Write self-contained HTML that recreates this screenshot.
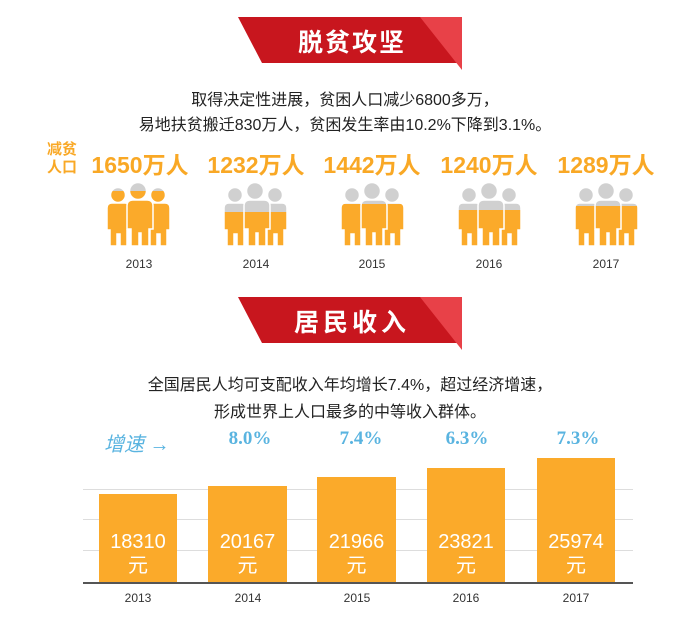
<!DOCTYPE html>
<html><head><meta charset="utf-8"><style>
body{margin:0;width:689px;height:624px;background:#fff;overflow:hidden;position:relative;font-family:"Liberation Sans","Noto Sans CJK SC",sans-serif}
.a{position:absolute;white-space:nowrap}
.c{transform:translateX(-50%)}
.num{color:#f9a825;font-size:23px;font-weight:bold;top:146px}
.yr{font-size:12px;color:#333}
.pct{color:#5ab4e0;font-family:"Liberation Serif","Noto Serif CJK SC",serif;font-weight:bold;font-size:19px;top:428px}
.bar{position:absolute;background:#fbaa2a;bottom:41px}
.bv{color:#fff;font-size:20px;text-align:center;position:absolute;left:0;right:0;top:36px;line-height:24px}
.g{position:absolute;left:83px;width:550px;height:1px;background:#ddd}
</style></head><body>
<svg class="a" style="left:0;top:0" width="689" height="624">
<defs>
<g id="ppl">
<g stroke="#fff" stroke-width="1.5">
<circle cx="11" cy="13" r="7.5"/>
<path d="M4 21h14q5 0 5 5v22h-3v16h-7v-12h-3v12h-7v-16h-3v-22q0-5 5-5z"/>
<circle cx="51" cy="13" r="7.5"/>
<path d="M44 21h14q5 0 5 5v22h-3v16h-7v-12h-3v12h-7v-16h-3v-22q0-5 5-5z"/>
<circle cx="31" cy="9" r="8.5"/>
<path d="M22 18h18q6 0 6 6v23h-4v17h-8v-13h-2v13h-8v-17h-4v-23q0-6 6-6z"/>
</g></g>
</defs>
<polygon points="238,17 462,17 462,63 262,63" fill="#c8161e"/>
<polygon points="420,17 462,17 462,70" fill="#e84148"/>
<polygon points="238,297 462,297 462,343 262,343" fill="#c8161e"/>
<polygon points="420,297 462,297 462,350" fill="#e84148"/>
</svg>
<div class="a c" style="left:352px;top:23px;color:#fff;font-size:25px;font-weight:bold;letter-spacing:2px">脱贫攻坚</div>
<div class="a c" style="left:352px;top:303px;color:#fff;font-size:25px;font-weight:bold;letter-spacing:4px">居民收入</div>
<div class="a c" style="left:345px;top:86px;font-size:16px;color:#222">取得决定性进展，贫困人口减少6800多万，</div>
<div class="a c" style="left:345px;top:111px;font-size:16px;color:#222">易地扶贫搬迁830万人，贫困发生率由10.2%下降到3.1%。</div>
<div class="a" style="left:47px;top:141px;color:#f9a825;font-size:15px;font-weight:bold;line-height:18px">减贫<br>人口</div>
<div class="a c num" style="left:140px">1650万人</div>
<div class="a c num" style="left:256px">1232万人</div>
<div class="a c num" style="left:372px">1442万人</div>
<div class="a c num" style="left:489px">1240万人</div>
<div class="a c num" style="left:606px">1289万人</div>
<svg class="a" style="left:0;top:0" width="689" height="260">
<defs>
<clipPath id="c0"><rect x="0" y="191" width="689" height="70"/></clipPath>
<clipPath id="c1"><rect x="0" y="212" width="689" height="70"/></clipPath>
<clipPath id="c2"><rect x="0" y="204" width="689" height="70"/></clipPath>
<clipPath id="c3"><rect x="0" y="210" width="689" height="70"/></clipPath>
<clipPath id="c4"><rect x="0" y="206" width="689" height="70"/></clipPath>
</defs>
<g transform="translate(107,182)"><use href="#ppl" fill="#d0d0d0"/></g>
<g clip-path="url(#c0)"><g transform="translate(107,182)"><use href="#ppl" fill="#fbaa2a"/></g></g>
<g transform="translate(224,182)"><use href="#ppl" fill="#d0d0d0"/></g>
<g clip-path="url(#c1)"><g transform="translate(224,182)"><use href="#ppl" fill="#fbaa2a"/></g></g>
<g transform="translate(341,182)"><use href="#ppl" fill="#d0d0d0"/></g>
<g clip-path="url(#c2)"><g transform="translate(341,182)"><use href="#ppl" fill="#fbaa2a"/></g></g>
<g transform="translate(458,182)"><use href="#ppl" fill="#d0d0d0"/></g>
<g clip-path="url(#c3)"><g transform="translate(458,182)"><use href="#ppl" fill="#fbaa2a"/></g></g>
<g transform="translate(575,182)"><use href="#ppl" fill="#d0d0d0"/></g>
<g clip-path="url(#c4)"><g transform="translate(575,182)"><use href="#ppl" fill="#fbaa2a"/></g></g>
</svg>
<div class="a c yr" style="left:139px;top:257px">2013</div>
<div class="a c yr" style="left:256px;top:257px">2014</div>
<div class="a c yr" style="left:372px;top:257px">2015</div>
<div class="a c yr" style="left:489px;top:257px">2016</div>
<div class="a c yr" style="left:606px;top:257px">2017</div>

<div class="a c" style="left:350px;top:371px;font-size:16px;color:#222">全国居民人均可支配收入年均增长7.4%，超过经济增速，</div>
<div class="a c" style="left:350px;top:398px;font-size:16px;color:#222">形成世界上人口最多的中等收入群体。</div>
<div class="a" style="left:104px;top:428px;color:#5ab4e0;font-size:20px;font-style:italic">增速 →</div>
<div class="a c pct" style="left:250px">8.0%</div>
<div class="a c pct" style="left:361px">7.4%</div>
<div class="a c pct" style="left:467px">6.3%</div>
<div class="a c pct" style="left:578px">7.3%</div>
<div class="g" style="top:489px"></div>
<div class="g" style="top:519px"></div>
<div class="g" style="top:550px"></div>
<div class="bar" style="left:99px;width:78px;top:494px"><div class="bv">18310<br>元</div></div>
<div class="bar" style="left:208px;width:79px;top:486px"><div class="bv" style="top:44px">20167<br>元</div></div>
<div class="bar" style="left:317px;width:79px;top:477px"><div class="bv" style="top:53px">21966<br>元</div></div>
<div class="bar" style="left:427px;width:78px;top:468px"><div class="bv" style="top:62px">23821<br>元</div></div>
<div class="bar" style="left:537px;width:78px;top:458px"><div class="bv" style="top:72px">25974<br>元</div></div>
<div class="a" style="left:83px;top:582px;width:550px;height:2px;background:#555"></div>
<div class="a c yr" style="left:138px;top:591px">2013</div>
<div class="a c yr" style="left:248px;top:591px">2014</div>
<div class="a c yr" style="left:357px;top:591px">2015</div>
<div class="a c yr" style="left:466px;top:591px">2016</div>
<div class="a c yr" style="left:576px;top:591px">2017</div>
</body></html>
